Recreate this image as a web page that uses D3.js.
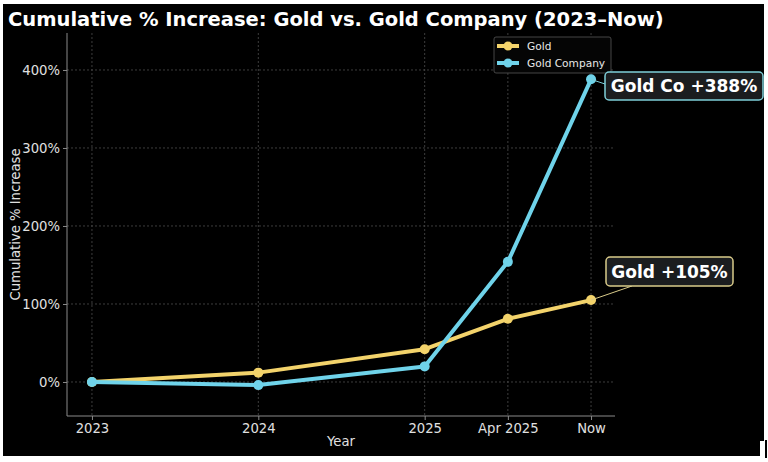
<!DOCTYPE html>
<html>
<head>
<meta charset="utf-8">
<script src="https://cdn.jsdelivr.net/npm/d3@7"></script>
<style>
  html, body { margin: 0; padding: 0; background: #fff; }
  svg { display: block; font-family: "DejaVu Sans", sans-serif; }
</style>
</head>
<body>
<div id="chart"></div>
<script>
// data
var xLabels = ["2023", "2024", "2025", "Apr 2025", "Now"];
var xValues = [2023, 2024, 2025, 2025.5, 2026];
var goldValues = [0, 12, 42, 81, 105];
var companyValues = [0, -4, 20, 154, 388];
var yTicks = [0, 100, 200, 300, 400];

var goldColor = "#f3d36b";
var companyColor = "#6fd3ea";

var totalWidth = 768, totalHeight = 462;
var plot = { left: 67, right: 615, top: 33, bottom: 416 };
var tickFont = 13.2;

var svg = d3.select("#chart").append("svg")
    .attr("width", totalWidth)
    .attr("height", totalHeight);

// black canvas with the little white border of the screenshot
svg.append("rect").attr("x", 3).attr("y", 4).attr("width", 761).attr("height", 437).attr("fill", "#000");
svg.append("rect").attr("x", 3).attr("y", 440).attr("width", 757).attr("height", 16).attr("fill", "#000");
svg.append("rect").attr("x", 765).attr("y", 440).attr("width", 2).attr("height", 18).attr("fill", "#000");

var xScale = d3.scaleLinear().domain([2022.85, 2026.144]).range([plot.left, plot.right]);
var yScale = d3.scaleLinear().domain([-43.6, 447.4]).range([plot.bottom, plot.top]);

// grid
var grid = svg.append("g");
grid.selectAll(".vgrid").data(xValues).enter().append("line")
    .attr("x1", d => xScale(d)).attr("x2", d => xScale(d))
    .attr("y1", plot.top).attr("y2", plot.bottom)
    .attr("stroke", "#4d4d4d").attr("stroke-width", 0.8).attr("stroke-dasharray", "2,2");
grid.selectAll(".hgrid").data(yTicks).enter().append("line")
    .attr("x1", plot.left).attr("x2", plot.right)
    .attr("y1", d => yScale(d)).attr("y2", d => yScale(d))
    .attr("stroke", "#4d4d4d").attr("stroke-width", 0.8).attr("stroke-dasharray", "2,2");

// axes
var xAxis = d3.axisBottom(xScale).tickValues(xValues)
    .tickFormat((d, i) => xLabels[i]).tickSizeInner(4).tickSizeOuter(0).tickPadding(4);
var xAxisGroup = svg.append("g").attr("transform", "translate(0," + plot.bottom + ")").call(xAxis);
xAxisGroup.select(".domain").attr("stroke", "#8a8a8a").attr("d", "M" + plot.left + ",0H" + plot.right);
xAxisGroup.selectAll("line").attr("stroke", "#8a8a8a");
xAxisGroup.selectAll("text").attr("fill", "#e0e0e0").attr("font-size", tickFont)
    .attr("font-family", "DejaVu Sans, sans-serif");

var yAxis = d3.axisLeft(yScale).tickValues(yTicks)
    .tickFormat(d => d + "%").tickSizeInner(4).tickSizeOuter(0).tickPadding(3);
var yAxisGroup = svg.append("g").attr("transform", "translate(" + plot.left + ",0)").call(yAxis);
yAxisGroup.select(".domain").attr("stroke", "#8a8a8a").attr("d", "M0," + plot.top + "V" + plot.bottom);
yAxisGroup.selectAll("line").attr("stroke", "#8a8a8a");
yAxisGroup.selectAll("text").attr("fill", "#e0e0e0").attr("font-size", tickFont)
    .attr("font-family", "DejaVu Sans, sans-serif");

svg.append("text").attr("x", (plot.left + plot.right) / 2).attr("y", 446)
    .attr("text-anchor", "middle").attr("fill", "#e0e0e0").attr("font-size", tickFont)
    .text("Year");
svg.append("text").attr("transform", "translate(20," + ((plot.top + plot.bottom) / 2 + 0) + ") rotate(-90)")
    .attr("text-anchor", "middle").attr("fill", "#e0e0e0").attr("font-size", tickFont)
    .text("Cumulative % Increase");

// title
svg.append("text").attr("x", 8).attr("y", 26)
    .attr("fill", "#fff").attr("font-size", 19.5).attr("font-weight", "bold")
    .text("Cumulative % Increase: Gold vs. Gold Company (2023\u2013Now)");

// lines
var series = [
    { name: "Gold", values: goldValues, color: goldColor },
    { name: "Gold Company", values: companyValues, color: companyColor }
];
var line = d3.line().x((d, i) => xScale(xValues[i])).y(d => yScale(d));

series.forEach(function(s) {
    svg.append("path").datum(s.values)
        .attr("d", line).attr("fill", "none")
        .attr("stroke", s.color).attr("stroke-width", 4).attr("stroke-linejoin", "round");
    svg.selectAll(null).data(s.values).enter().append("circle")
        .attr("cx", (d, i) => xScale(xValues[i])).attr("cy", d => yScale(d))
        .attr("r", 5).attr("fill", s.color);
});

// legend
var legend = svg.append("g");
legend.append("rect").attr("x", 494).attr("y", 37).attr("width", 117).attr("height", 36)
    .attr("rx", 2).attr("fill", "#050505").attr("stroke", "#555").attr("stroke-width", 0.8);
series.forEach(function(s, i) {
    var ly = 46 + i * 17;
    legend.append("line").attr("x1", 497).attr("x2", 519).attr("y1", ly).attr("y2", ly)
        .attr("stroke", s.color).attr("stroke-width", 4);
    legend.append("circle").attr("cx", 508).attr("cy", ly).attr("r", 4.5).attr("fill", s.color);
    legend.append("text").attr("x", 527).attr("y", ly + 3.5)
        .attr("fill", "#e8e8e8").attr("font-size", 10.6).text(s.name);
});

// annotations
var last = xValues.length - 1;
var notes = [
    { text: "Gold Co +" + companyValues[last] + "%", value: companyValues[last], color: companyColor,
      stroke: "#7fcfd9", bx: 605, by: 72, bw: 158, bh: 28, lx: 605, ly: 84 },
    { text: "Gold +" + goldValues[last] + "%", value: goldValues[last], color: goldColor,
      stroke: "#d9cb8a", bx: 606, by: 257, bw: 127, bh: 29, lx: 632, ly: 286 }
];
notes.forEach(function(n) {
    svg.append("line")
        .attr("x1", xScale(xValues[last])).attr("y1", yScale(n.value))
        .attr("x2", n.lx).attr("y2", n.ly)
        .attr("stroke", n.stroke).attr("stroke-width", 1);
    svg.append("rect").attr("x", n.bx).attr("y", n.by).attr("width", n.bw).attr("height", n.bh)
        .attr("rx", 4).attr("fill", "#1b1d1f").attr("stroke", n.stroke).attr("stroke-width", 1.5);
    svg.append("text").attr("x", n.bx + n.bw / 2).attr("y", n.by + n.bh / 2 + 6)
        .attr("text-anchor", "middle").attr("fill", "#fff")
        .attr("font-size", 17).attr("font-weight", "bold").text(n.text);
});
</script>
</body>
</html>
